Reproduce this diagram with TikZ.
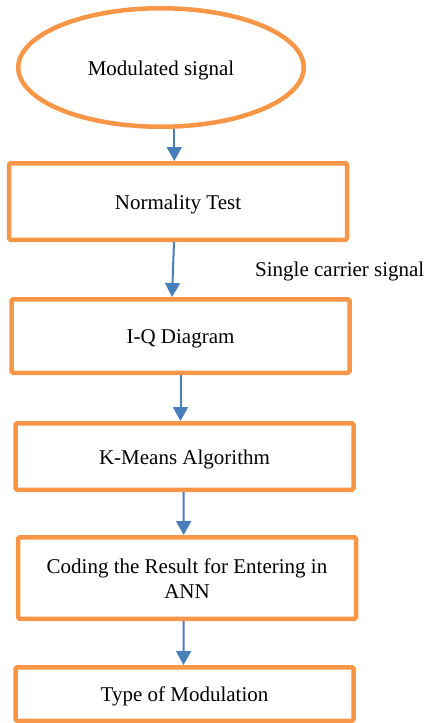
\documentclass[tikz,border=0pt]{standalone}
\usepackage{fontspec}
\setmainfont{Liberation Serif}
\usepackage{xcolor}
\usepackage{tikz}
\usetikzlibrary{shapes.geometric, arrows.meta, positioning}
\definecolor{boxorange}{HTML}{F79646}
\definecolor{arrowblue}{HTML}{4A7EBB}
\tikzset{
  signal/.style={
    ellipse,
    minimum width=285.5pt, minimum height=118.5pt,
    text centered, draw=boxorange, line width=4.5pt,
    text height=20pt, text depth=5pt,
    fill=white, font=\fontsize{21}{25}\selectfont,
  },
  process/.style={
    rectangle, rounded corners=1.5pt,
    minimum width=338pt, minimum height=74pt,
    text centered, align=center, draw=boxorange, line width=4.5pt,
    text height=20pt, text depth=5pt,
    fill=white, font=\fontsize{21}{25}\selectfont,
  },
  arrow/.style={-{Triangle[length=14pt,width=15pt]}, line width=2pt, color=arrowblue},
  note/.style={inner sep=0pt, font=\fontsize{21}{25}\selectfont},
}
\begin{document}
\begin{tikzpicture}[x=1pt,y=-1pt]
  \useasboundingbox (0,0) rectangle (425,723);
  \node[signal] (sig) at (161,67.5) {Modulated signal};
  \node[process,minimum height=76.5pt,below=32pt of sig,xshift=17pt] (norm) {Normality Test};
  \node[process,minimum height=73.5pt,below=55pt of norm,xshift=2.5pt] (iq) {I-Q Diagram};
  \node[process,minimum height=66.5pt,below=46pt of iq,xshift=4pt] (kmeans) {K-Means Algorithm};
  \node[process,minimum height=81.5pt,text height=45pt,below=43pt of kmeans,xshift=2.5pt] (code) {Coding the Result for Entering in\\ANN};
  \node[process,minimum height=53.5pt,below=44pt of code,xshift=-2.5pt] (type) {Type of Modulation};
  \node[note,anchor=base west] (carrier) at (255,276) {Single carrier signal};
  \draw[arrow] ([xshift=13.3pt]sig.south)--([xshift=-3.7pt]norm.north);
  \draw[arrow] ([xshift=-4pt]norm.south)--([xshift=-8.5pt]iq.north);
  \draw[arrow] (iq.south)--(iq.south |- kmeans.north);
  \draw[arrow] ([xshift=-1pt]kmeans.south)--([xshift=-3.3pt]code.north);
  \draw[arrow] ([xshift=-3.3pt]code.south)--([xshift=-1pt]type.north);
\end{tikzpicture}
\end{document}
